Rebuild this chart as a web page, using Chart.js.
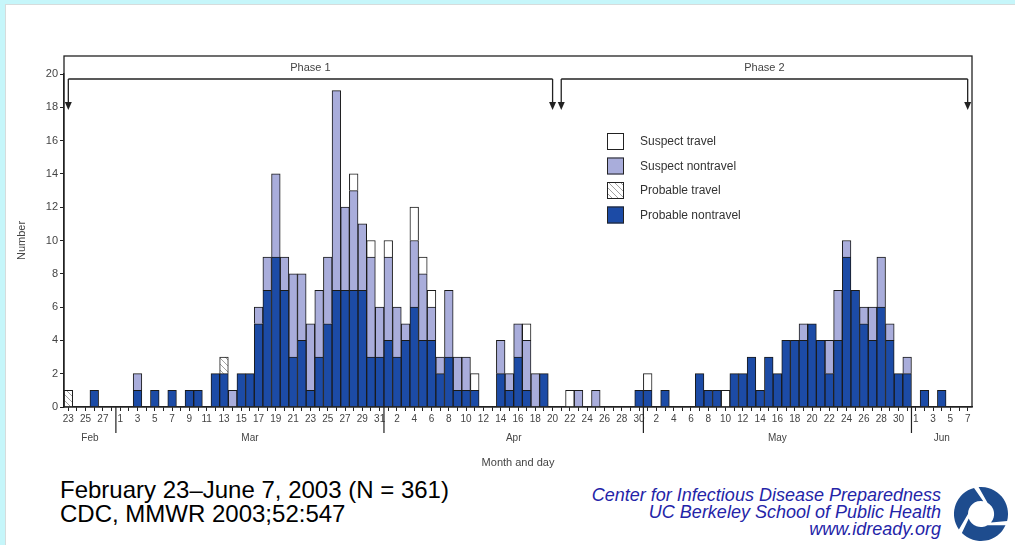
<!DOCTYPE html>
<html>
<head>
<meta charset="utf-8">
<title>SARS cases by date of onset</title>
<script src="https://cdn.jsdelivr.net/npm/chart.js@4.4.1/dist/chart.umd.min.js"></script>
<style>
    html, body { margin: 0; padding: 0; }
    body {
        width: 1015px; height: 545px; position: relative; overflow: hidden;
        background: #c6f6fa;
        font-family: Arial, "Liberation Sans", sans-serif;
    }
    #panel {
        position: absolute; left: 5px; top: 4px; right: 0; bottom: 0;
        background: #fff; border-left: 1px solid #d6dcdc; border-top: 1px solid #d6dcdc;
    }
    #chart-wrap { position: absolute; left: 0; top: 0; width: 1015px; height: 475px; }
    .source {
        position: absolute; left: 60px; top: 478px;
        font-size: 24px; line-height: 24px; color: #000;
    }
    .credit {
        position: absolute; right: 74px; top: 487px; text-align: right;
        font-style: italic; font-size: 18px; line-height: 17px; color: #2424a8;
    }
    #logo { position: absolute; left: 950px; top: 485px; width: 62px; height: 58px; }
</style>
</head>
<body>
<div id="panel"></div>
<div id="chart-wrap"><canvas id="onset-chart" width="1015" height="475"></canvas></div>
<div class="source">February 23–June 7, 2003 (N = 361)<br>CDC, MMWR 2003;52:547</div>
<div class="credit">Center for Infectious Disease Preparedness<br>UC Berkeley School of Public Health<br>www.idready.org</div>
<svg id="logo" viewBox="0 0 62 58">
    <g transform="translate(31,29)" fill="#1e4c8e">
        <path d="M -2.4 -26.9 A 27 27 0 0 1 26.1 7 L 10 8.4 A 13 13 0 0 0 6.5 -11.3 Z"/>
        <path d="M -2.4 -26.9 A 27 27 0 0 1 26.1 7 L 10 8.4 A 13 13 0 0 0 6.5 -11.3 Z" transform="rotate(120)"/>
        <path d="M -2.4 -26.9 A 27 27 0 0 1 26.1 7 L 10 8.4 A 13 13 0 0 0 6.5 -11.3 Z" transform="rotate(240)"/>
    </g>
</svg>
<script>
// months on the x axis (first and last day shown)
const monthNames = ['Feb', 'Mar', 'Apr', 'May', 'Jun'];
const monthFirstDay = [23, 1, 1, 1, 1];
const monthLastDay = [28, 31, 30, 31, 7];

// cases per day, Feb 23 -> Jun 7
const probableNontravel = [
    0, 0, 0, 1, 0, 0,
    0, 0, 1, 0, 1, 0, 1, 0, 1, 1, 0, 2, 2, 0, 2, 2, 5, 7, 9, 7, 3, 4, 1, 3, 5, 7, 7, 7, 7, 3, 3,
    4, 3, 4, 6, 4, 4, 2, 3, 1, 1, 1, 0, 0, 2, 1, 3, 1, 0, 2, 0, 0, 0, 0, 0, 0, 0, 0, 0, 0, 1,
    1, 0, 1, 0, 0, 0, 2, 1, 1, 0, 2, 2, 3, 1, 3, 2, 4, 4, 4, 5, 4, 2, 4, 9, 7, 5, 4, 6, 4, 2, 2,
    0, 1, 0, 1, 0, 0, 0,
];
const probableTravel = [
    1, 0, 0, 0, 0, 0,
    0, 0, 0, 0, 0, 0, 0, 0, 0, 0, 0, 0, 1, 0, 0, 0, 0, 0, 0, 0, 0, 0, 0, 0, 0, 0, 0, 0, 0, 0, 0,
    0, 0, 0, 0, 0, 0, 0, 0, 0, 0, 0, 0, 0, 0, 0, 0, 0, 0, 0, 0, 0, 0, 0, 0, 0, 0, 0, 0, 0, 0,
    0, 0, 0, 0, 0, 0, 0, 0, 0, 0, 0, 0, 0, 0, 0, 0, 0, 0, 0, 0, 0, 0, 0, 0, 0, 0, 0, 0, 0, 0, 0,
    0, 0, 0, 0, 0, 0, 0,
];
const suspectNontravel = [
    0, 0, 0, 0, 0, 0,
    0, 0, 1, 0, 0, 0, 0, 0, 0, 0, 0, 0, 0, 1, 0, 0, 1, 2, 5, 2, 5, 4, 4, 4, 4, 12, 5, 6, 4, 6, 3,
    5, 3, 1, 4, 4, 2, 1, 4, 2, 2, 0, 0, 0, 2, 1, 2, 3, 2, 0, 0, 0, 0, 1, 0, 1, 0, 0, 0, 0, 0,
    0, 0, 0, 0, 0, 0, 0, 0, 0, 0, 0, 0, 0, 0, 0, 0, 0, 0, 1, 0, 0, 2, 3, 1, 0, 1, 2, 3, 1, 0, 1,
    0, 0, 0, 0, 0, 0, 0,
];
const suspectTravel = [
    0, 0, 0, 0, 0, 0,
    0, 0, 0, 0, 0, 0, 0, 0, 0, 0, 0, 0, 0, 0, 0, 0, 0, 0, 0, 0, 0, 0, 0, 0, 0, 0, 0, 1, 0, 1, 0,
    1, 0, 0, 2, 1, 1, 0, 0, 0, 0, 1, 0, 0, 0, 0, 0, 1, 0, 0, 0, 0, 1, 0, 0, 0, 0, 0, 0, 0, 0,
    1, 0, 0, 0, 0, 0, 0, 0, 0, 1, 0, 0, 0, 0, 0, 0, 0, 0, 0, 0, 0, 0, 0, 0, 0, 0, 0, 0, 0, 0, 0,
    0, 0, 0, 0, 0, 0, 0,
];

const yTicksMax = 20;
const yTickStep = 2;

const phaseNames = ['Phase 1', 'Phase 2'];
const phaseStart = ['Feb 23', 'Apr 21'];
const phaseEnd = ['Apr 20', 'Jun 7'];

// build the day categories
const categories = [];
const monthStartIndex = [];
monthNames.forEach((name, m) => {
    monthStartIndex.push(categories.length);
    for (let d = monthFirstDay[m]; d <= monthLastDay[m]; d++) {
        categories.push(name + ' ' + d);
    }
});

const hatchPattern = (() => {
    const c = document.createElement('canvas');
    c.width = 6;
    c.height = 6;
    const g = c.getContext('2d');
    g.fillStyle = '#ffffff';
    g.fillRect(0, 0, 6, 6);
    g.strokeStyle = '#8a8a8a';
    g.lineWidth = 0.8;
    g.beginPath();
    g.moveTo(0, 0); g.lineTo(6, 6);
    g.moveTo(-1, 5); g.lineTo(1, 7);
    g.moveTo(5, -1); g.lineTo(7, 1);
    g.stroke();
    return g.createPattern(c, 'repeat');
})();

const toBars = (values) => values.map((v) => (v === 0 ? null : v));

const series = [
    { label: 'Probable nontravel', data: probableNontravel, color: '#1c4ba6' },
    { label: 'Probable travel', data: probableTravel, color: hatchPattern },
    { label: 'Suspect nontravel', data: suspectNontravel, color: '#a9addb' },
    { label: 'Suspect travel', data: suspectTravel, color: '#ffffff' },
];

const FONT = 'Arial, "Liberation Sans", sans-serif';
const INK = '#222222';
const LABEL = '#444444';

const decorPlugin = {
    id: 'decor',
    afterDraw(chart) {
        const { ctx, chartArea, scales } = chart;
        const { left, right, top, bottom } = chartArea;
        const x = scales.x;
        const frameTop = top - 18;

        ctx.save();
        ctx.strokeStyle = INK;
        ctx.fillStyle = INK;
        ctx.lineWidth = 1.3;

        // outer frame
        ctx.strokeRect(left, frameTop, right - left, bottom - frameTop);

        // phase brackets with arrows
        const bracketY = top + 5;
        const arrowTip = top + 36;
        const arrow = (px) => {
            ctx.beginPath();
            ctx.moveTo(px, bracketY);
            ctx.lineTo(px, arrowTip - 7);
            ctx.stroke();
            ctx.beginPath();
            ctx.moveTo(px - 3.5, arrowTip - 8);
            ctx.lineTo(px + 3.5, arrowTip - 8);
            ctx.lineTo(px, arrowTip);
            ctx.closePath();
            ctx.fill();
        };
        ctx.font = '11px ' + FONT;
        ctx.textAlign = 'center';
        ctx.textBaseline = 'middle';
        phaseNames.forEach((name, p) => {
            const x1 = x.getPixelForValue(categories.indexOf(phaseStart[p]));
            const x2 = x.getPixelForValue(categories.indexOf(phaseEnd[p]));
            ctx.beginPath();
            ctx.moveTo(x1, bracketY);
            ctx.lineTo(x2, bracketY);
            ctx.stroke();
            arrow(x1);
            arrow(x2);
            ctx.fillStyle = LABEL;
            ctx.fillText(name, (x1 + x2) / 2, top - 6);
            ctx.fillStyle = INK;
        });

        // month dividers and month names
        ctx.lineWidth = 1.2;
        ctx.font = '10px ' + FONT;
        monthNames.forEach((name, m) => {
            const first = monthStartIndex[m];
            const last = first + (monthLastDay[m] - monthFirstDay[m]);
            if (m > 0) {
                const xd = (x.getPixelForValue(first - 1) + x.getPixelForValue(first)) / 2;
                ctx.beginPath();
                ctx.moveTo(xd, bottom);
                ctx.lineTo(xd, bottom + 26);
                ctx.stroke();
            }
            ctx.fillStyle = LABEL;
            ctx.fillText(name, (x.getPixelForValue(first) + x.getPixelForValue(last)) / 2, bottom + 31);
        });

        // axis titles
        ctx.font = '11px ' + FONT;
        ctx.fillText('Month and day', (left + right) / 2, bottom + 56);
        ctx.save();
        ctx.translate(22, (top + bottom) / 2);
        ctx.rotate(-Math.PI / 2);
        ctx.fillText('Number', 0, 0);
        ctx.restore();

        // legend, top entry first
        const lx = left + 543;
        const ly = top + 59;
        ctx.textAlign = 'left';
        ctx.font = '12px ' + FONT;
        ctx.lineWidth = 1;
        series.slice().reverse().forEach((s, k) => {
            const y0 = ly + k * 24.5;
            ctx.fillStyle = s.color;
            ctx.fillRect(lx, y0, 17, 17);
            ctx.strokeStyle = INK;
            ctx.strokeRect(lx + 0.5, y0 + 0.5, 16, 16);
            ctx.fillStyle = '#333333';
            ctx.fillText(s.label, lx + 33, y0 + 9);
        });
        ctx.restore();
    },
};

document.addEventListener('DOMContentLoaded', () => {
    const canvas = document.getElementById('onset-chart');

    Chart.defaults.font.family = FONT;
    Chart.defaults.color = LABEL;

    new Chart(canvas, {
        type: 'bar',
        data: {
            labels: categories,
            datasets: series.map((s) => ({
                label: s.label,
                data: toBars(s.data),
                backgroundColor: s.color,
                borderColor: '#1a1a1a',
                borderWidth: 1,
                barPercentage: 1,
                categoryPercentage: 1,
                stack: 'cases',
            })),
        },
        options: {
            responsive: false,
            animation: false,
            layout: {
                padding: { top: 74, right: 43, left: 0, bottom: 0 },
            },
            plugins: {
                legend: { display: false },
                tooltip: { enabled: false },
            },
            scales: {
                x: {
                    stacked: true,
                    offset: true,
                    grid: {
                        display: true,
                        drawOnChartArea: false,
                        drawTicks: true,
                        tickLength: 4,
                        offset: false,
                        color: INK,
                    },
                    border: { display: true, color: INK, width: 1.3 },
                    ticks: {
                        autoSkip: false,
                        maxRotation: 0,
                        minRotation: 0,
                        padding: 2,
                        font: { size: 10 },
                        color: LABEL,
                        callback: (value, index) => (index % 2 === 0 ? categories[index].split(' ')[1] : ''),
                    },
                    afterFit: (scale) => { scale.height = 68; },
                },
                y: {
                    stacked: true,
                    min: 0,
                    max: yTicksMax,
                    grid: {
                        drawOnChartArea: false,
                        drawTicks: true,
                        tickLength: 4,
                        color: INK,
                    },
                    border: { display: true, color: INK, width: 1.3 },
                    ticks: {
                        stepSize: yTickStep,
                        padding: 2,
                        font: { size: 11 },
                        color: LABEL,
                    },
                    afterFit: (scale) => { scale.width = 64; },
                },
            },
        },
        plugins: [decorPlugin],
    });
});
</script>
</body>
</html>
